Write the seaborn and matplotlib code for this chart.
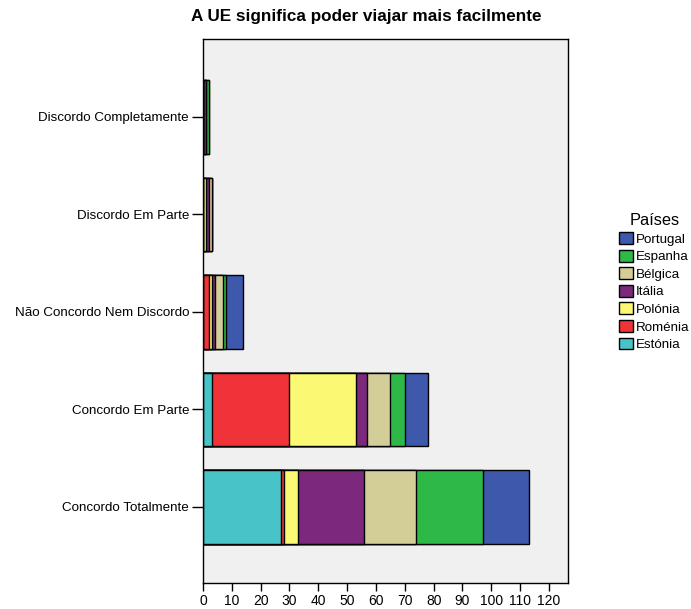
import numpy as np
import pandas as pd
import matplotlib
matplotlib.use("Agg")
import matplotlib.pyplot as plt
import seaborn as sns
from matplotlib.patches import Patch

plt.rcParams['font.family'] = ['Liberation Sans', 'DejaVu Sans']

categories = ["Discordo Completamente", "Discordo Em Parte", "Não Concordo Nem Discordo",
              "Concordo Em Parte", "Concordo Totalmente"]
countries = ["Estónia", "Roménia", "Polónia", "Itália", "Bélgica", "Espanha", "Portugal"]
estonia = [0, 0, 0, 3, 27]
romenia = [0, 0, 2, 27, 1]
polonia = [0, 1, 1, 23, 5]
italia = [1, 1, 1, 4, 23]
belgica = [0, 1, 3, 8, 18]
espanha = [1, 0, 1, 5, 23]
portugal = [0, 0, 6, 8, 16]
colors = ["#48C4C8", "#EF3338", "#FBF873", "#7B287D", "#D3CE97", "#2EB848", "#3E58AC"]

values = np.array([estonia, romenia, polonia, italia, belgica, espanha, portugal])
cum = np.cumsum(values, axis=0)

fig = plt.figure(figsize=(6.91, 6.09), dpi=100)
ax = fig.add_axes([203/691, 1-583/609, (568-203)/691, (583-39)/609])
ax.set_facecolor("#F0F0F0")

for i in reversed(range(len(countries))):
    df = pd.DataFrame({"cat": categories, "val": cum[i]})
    sns.barplot(data=df, x="val", y="cat", orient="h", order=categories,
                color=colors[i], saturation=1, edgecolor="black", linewidth=1,
                width=0.75, ax=ax)

ax.set_xlim(0, 126.6)
ax.set_ylim(4.78, -0.8)
ax.set_xticks(range(0, 121, 10))
ax.set_xlabel("")
ax.set_ylabel("")
ax.tick_params(axis="x", direction="out", length=6, width=1, labelsize=10, pad=2)
ax.tick_params(axis="y", direction="out", length=8, width=1, labelsize=9.6, pad=2)
for s in ax.spines.values():
    s.set_color("black")
    s.set_linewidth(1)

fig.text(366/691, 1-16/609, "A UE significa poder viajar mais facilmente", ha="center",
         va="center", fontsize=12.3, fontweight="bold")

handles = [Patch(facecolor=colors[i], edgecolor="black", linewidth=1, label=countries[i])
           for i in reversed(range(len(countries)))]
leg = fig.legend(handles=handles, title="Países", loc="upper left",
                 bbox_to_anchor=(614/691, 1-208/609), frameon=False, fontsize=9.6,
                 title_fontsize=11.8, handlelength=1.0, handleheight=1.0,
                 handletextpad=0.25, labelspacing=0.3, borderaxespad=0)

fig.savefig("out.png", dpi=100)
